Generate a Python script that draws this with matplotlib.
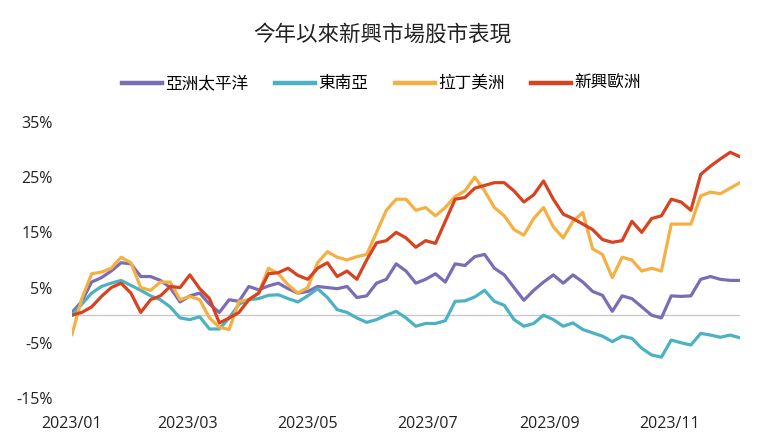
import numpy as np
import matplotlib
matplotlib.use("Agg")
import matplotlib.pyplot as plt

plt.rcParams['font.family'] = ['Noto Sans CJK TC', 'DejaVu Sans']

# values read every 5 days from 2023/01/01
dates = np.arange(np.datetime64('2023-01-01'), np.datetime64('2023-12-08'), np.timedelta64(5, 'D'))

asia_pacific = [0.5, 2.5, 6, 6.8, 8, 9.5, 9.3, 7, 7, 6.3, 5, 2.4, 3.5, 4, 2, 0.5, 2.8,
                2.5, 5.2, 4.6, 5.3, 5.8, 4.8, 4, 4.3, 5.2, 5, 4.8, 5.2, 3.2, 3.5, 5.8,
                6.5, 9.3, 8, 5.8, 6.5, 7.5, 6, 9.3, 9, 10.6, 11, 8.5, 7.3, 5, 2.7, 4.5,
                6, 7.3, 5.8, 7.3, 6, 4.3, 3.6, 0.7, 3.5, 3, 1.5, 0, -0.5, 3.5, 3.4, 3.5,
                6.5, 7, 6.5, 6.3, 6.3]
southeast_asia = [0, 2, 4, 5.2, 5.8, 6.3, 5.4, 4.5, 3.5, 2.8, 1.5, -0.5, -0.8, -0.3, -2.5,
                  -2.5, -0.5, 2, 2.8, 3, 3.6, 3.7, 3, 2.4, 3.5, 4.8, 3.2, 1, 0.5, -0.5, -1.3,
                  -0.8, 0, 0.7, -0.5, -2, -1.5, -1.5, -1, 2.5, 2.6, 3.3, 4.5, 2.5, 1.8, -0.8,
                  -2, -1.5, 0, -0.8, -2, -1.4, -2.6, -3.2, -3.8, -4.8, -3.8, -4.2, -6, -7.2,
                  -7.6, -4.5, -5, -5.4, -3.3, -3.6, -4, -3.6, -4.1]
latin_america = [-3.5, 3, 7.5, 7.8, 8.5, 10.5, 9.5, 5, 4.5, 6, 6, 2.8, 3.4, 2.8, -0.5, -2.2,
                 -2.6, 2.5, 2.8, 4, 8.5, 7.5, 5.5, 4, 5, 9.5, 11.5, 10.5, 10, 10.6, 11, 15,
                 19, 21, 21, 19, 19.5, 18, 19.5, 21.5, 22.5, 25, 22.5, 19.5, 18, 15.5, 14.5,
                 17.5, 19.5, 16, 14, 17, 18.6, 12, 11, 6.8, 10.5, 10, 8, 8.5, 8, 16.5, 16.5,
                 16.5, 21.6, 22.3, 22, 23, 24]
emerging_europe = [0, 0.5, 1.5, 3.4, 5, 5.8, 4, 0.5, 2.8, 3.5, 5.2, 5, 7.3, 4.8, 3, -1.4,
                   -0.5, 0.5, 2.8, 4, 7.5, 7.7, 8.5, 7.2, 6.5, 8.5, 9.5, 7, 8, 6.5, 10, 13.1,
                   13.5, 15, 14, 12.3, 13.5, 13, 17, 21, 21.3, 23, 23.5, 24, 24, 22.5, 20.5,
                   21.8, 24.3, 21, 18.3, 17.5, 16.5, 15.5, 13.7, 13.2, 13.5, 17, 15, 17.5, 18,
                   21, 20.5, 19, 25.5, 27, 28.3, 29.5, 28.7]

names = ['亞洲太平洋', '東南亞', '拉丁美洲', '新興歐洲']
colors = ['#7b6db5', '#4bb2c4', '#f5b041', '#d9411f']
series = [asia_pacific, southeast_asia, latin_america, emerging_europe]

fig = plt.figure(figsize=(7.6, 4.46), dpi=100)
ax = fig.add_axes([0.0947, 0.1076, 0.879, 0.619])

ax.axhline(0, color='#c8c8c8', lw=1, zorder=1)
for name, color, vals in zip(names, colors, series):
    ax.plot(dates, vals, color=color, lw=2.3, label=name, zorder=2)

ax.set_xlim(dates[0], dates[-1])
ax.set_ylim(-15, 35)
yt = [-15, -5, 5, 15, 25, 35]
ax.set_yticks(yt)
ax.set_yticklabels([f'{v}%' for v in yt], family=['Open Sans', 'DejaVu Sans'], fontsize=11.5)
months = [np.datetime64(f'2023-{m:02d}-01') for m in [1, 3, 5, 7, 9, 11]]
ax.set_xticks(months)
ax.set_xticklabels([f'2023/{m:02d}' for m in [1, 3, 5, 7, 9, 11]],
                   family=['Open Sans', 'DejaVu Sans'], fontsize=11.5)
ax.tick_params(length=0, colors='#222222')
ax.tick_params(axis='y', pad=14)
ax.tick_params(axis='x', pad=13)
for s in ax.spines.values():
    s.set_visible(False)

fig.text(0.503, 0.922, '今年以來新興市場股市表現', ha='center', va='center', fontsize=15.5, color='#222222')
leg = fig.legend(loc='center', bbox_to_anchor=(0.502, 0.812), ncol=4, frameon=False, fontsize=12,
                 handlelength=2.4, handletextpad=0.2, columnspacing=1.6)
for line in leg.get_lines():
    line.set_linewidth(3.2)

fig.savefig('out.png', dpi=100)
